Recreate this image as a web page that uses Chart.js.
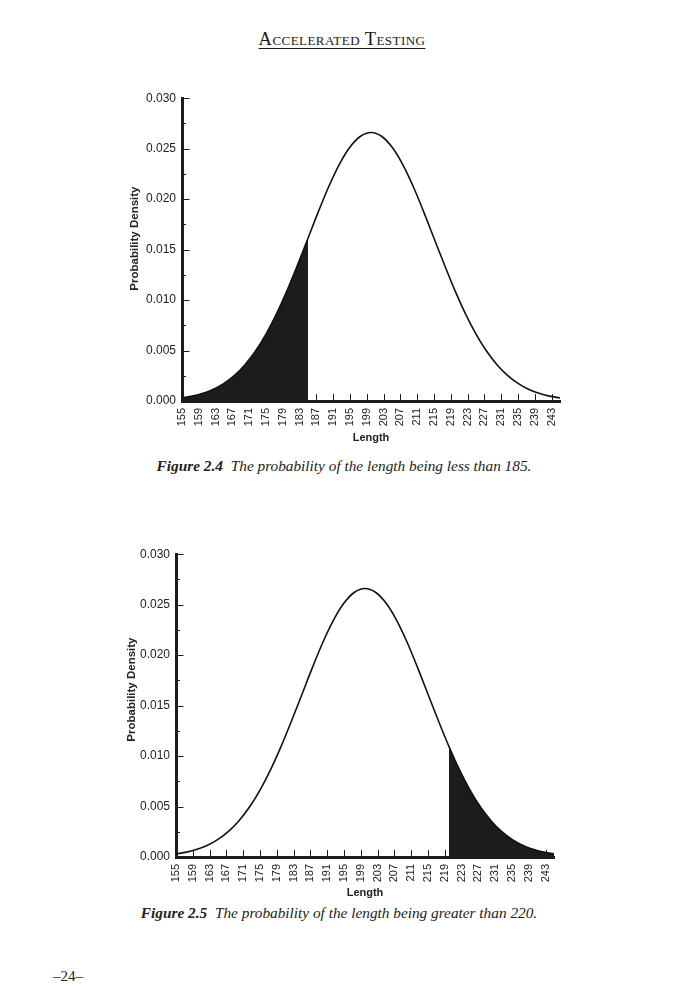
<!DOCTYPE html>
<html>
<head>
<meta charset="utf-8">
<script src="https://cdn.jsdelivr.net/npm/chart.js@4.4.1/dist/chart.umd.min.js"></script>
<style>
  html, body { margin: 0; padding: 0; background: #fff; }
  .page { position: relative; width: 684px; height: 1000px; overflow: hidden; color: #222; }
  .header {
    position: absolute; left: 0; top: 29px; width: 684px; text-align: center;
    font-family: 'Liberation Serif', 'Times New Roman', serif; font-size: 18.5px;
    font-variant: small-caps; text-decoration: underline; text-underline-offset: 3px;
    text-decoration-thickness: 1px; letter-spacing: 0.45px; color: #1a1a1a;
  }
  .chart { position: absolute; }
  .caption {
    position: absolute; white-space: nowrap; transform: translateX(-50%);
    font-family: 'Liberation Serif', 'Times New Roman', serif; font-size: 15.3px; font-style: italic;
  }
  .caption b { font-weight: bold; margin-right: 4px; }
  .folio {
    position: absolute; left: 53px; top: 968px;
    font-family: 'Liberation Serif', 'Times New Roman', serif; font-size: 15px;
  }
</style>
</head>
<body>
<div class="page">
  <div class="header">Accelerated Testing</div>

  <div class="chart" style="left:90px; top:85px; width:490px; height:360px;"><canvas id="fig24"></canvas></div>
  <div class="caption" style="left:344px; top:457px;"><b>Figure 2.4</b> The probability of the length being less than 185.</div>

  <div class="chart" style="left:84px; top:541px; width:490px; height:359px;"><canvas id="fig25"></canvas></div>
  <div class="caption" style="left:339px; top:904px;"><b>Figure 2.5</b> The probability of the length being greater than 220.</div>

  <div class="folio">–24–</div>
</div>

<script>
// ===== Data =====
const lengths = [155, 157.5, 160, 162.5, 165, 167.5, 170, 172.5, 175, 177.5,
  180, 182.5, 185, 187.5, 190, 192.5, 195, 197.5, 200, 202.5,
  205, 207.5, 210, 212.5, 215, 217.5, 220, 222.5, 225, 227.5,
  230, 232.5, 235, 237.5, 240, 242.5, 245];

const density = [0.00030, 0.00048, 0.00076, 0.00117, 0.00175, 0.00254, 0.00360, 0.00495, 0.00663, 0.00863,
  0.01093, 0.01347, 0.01613, 0.01879, 0.02130, 0.02347, 0.02516, 0.02623, 0.02660, 0.02623,
  0.02516, 0.02347, 0.02130, 0.01879, 0.01613, 0.01347, 0.01093, 0.00863, 0.00663, 0.00495,
  0.00360, 0.00254, 0.00175, 0.00117, 0.00076, 0.00048, 0.00030];

const xTicks = [155, 159, 163, 167, 171, 175, 179, 183, 187, 191, 195, 199,
  203, 207, 211, 215, 219, 223, 227, 231, 235, 239, 243];
const yTicks = [0, 0.005, 0.010, 0.015, 0.020, 0.025, 0.030];
const yMinorTicks = [0.0025, 0.0075, 0.0125, 0.0175, 0.0225, 0.0275];

const shade24 = [155, 185];   // length < 185
const shade25 = [220, 245];   // length > 220

const INK = '#1c1c1c';
const SANS = "'Liberation Sans', Arial, sans-serif";

// Tick marks drawn inside the plot, as in the book figures
const insideTicks = {
  id: 'insideTicks',
  beforeDatasetsDraw(chart) {
    const { ctx, chartArea, scales: { x, y } } = chart;
    ctx.save();
    ctx.strokeStyle = INK;
    ctx.lineWidth = 1;
    ctx.beginPath();
    yTicks.forEach(v => {
      const py = Math.round(y.getPixelForValue(v)) + 0.5;
      ctx.moveTo(chartArea.left, py);
      ctx.lineTo(chartArea.left + 7.5, py);
    });
    yMinorTicks.forEach(v => {
      const py = Math.round(y.getPixelForValue(v)) + 0.5;
      ctx.moveTo(chartArea.left, py);
      ctx.lineTo(chartArea.left + 4, py);
    });
    xTicks.forEach(v => {
      const px = Math.round(x.getPixelForValue(v)) + 0.5;
      ctx.moveTo(px, chartArea.bottom);
      ctx.lineTo(px, chartArea.bottom - 7);
    });
    ctx.stroke();
    ctx.restore();
  },
};

// y title sits a bit above the middle of the axis in the original
const yTitle = {
  id: 'yTitle',
  afterDraw(chart, args, opts) {
    const { ctx, chartArea } = chart;
    ctx.save();
    ctx.translate(chartArea.left - opts.dx, (chartArea.top + chartArea.bottom) / 2 + opts.dy);
    ctx.rotate(-Math.PI / 2);
    ctx.font = `bold 11.5px ${SANS}`;
    ctx.fillStyle = '#222';
    ctx.textAlign = 'center';
    ctx.textBaseline = 'middle';
    ctx.fillText(opts.text, 0, 0);
    ctx.restore();
  },
};

function makeFigure(id, shade, xAxisHeight, titleOffset) {
  const curve = lengths.map((l, i) => ({ x: l, y: density[i] }));
  const shaded = curve.filter(p => p.x >= shade[0] && p.x <= shade[1]);

  return new Chart(document.getElementById(id), {
    type: 'line',
    data: {
      datasets: [
        {
          label: 'Shaded',
          data: shaded,
          borderWidth: 0,
          pointRadius: 0,
          backgroundColor: INK,
          fill: 'origin',
          cubicInterpolationMode: 'monotone',
          order: 2,
        },
        {
          label: 'Density',
          data: curve,
          borderColor: '#111',
          borderWidth: 1.6,
          pointRadius: 0,
          fill: false,
          cubicInterpolationMode: 'monotone',
          order: 1,
        },
      ],
    },
    options: {
      responsive: true,
      maintainAspectRatio: false,
      animation: false,
      events: [],
      layout: { padding: { top: 10, right: 20, bottom: 0, left: 0 } },
      scales: {
        x: {
          type: 'linear',
          min: 155,
          max: 245,
          afterBuildTicks: (scale) => { scale.ticks = xTicks.map(v => ({ value: v })); },
          afterFit: (scale) => { scale.height = xAxisHeight; },
          grid: { display: false, drawTicks: false },
          border: { display: true, width: 3, color: INK },
          ticks: {
            minRotation: 90, maxRotation: 90, autoSkip: false, padding: 7,
            color: '#222', font: { family: SANS, size: 11 },
          },
          title: {
            display: true, text: 'Length', color: '#222',
            padding: { top: 0, bottom: 0 },
            font: { family: SANS, size: 11, weight: 'bold', lineHeight: 1.2 },
          },
        },
        y: {
          min: 0,
          max: 0.03,
          afterBuildTicks: (scale) => { scale.ticks = yTicks.map(v => ({ value: v })); },
          afterFit: (scale) => { scale.width = 92; },
          grid: { display: false, drawTicks: false },
          border: { display: true, width: 3, color: INK },
          ticks: {
            padding: 6, color: '#222', font: { family: SANS, size: 12 },
            callback: (v) => v.toFixed(3),
          },
        },
      },
      plugins: {
        legend: { display: false },
        tooltip: { enabled: false },
        yTitle: { text: 'Probability Density', dx: titleOffset[0], dy: titleOffset[1] },
      },
    },
    plugins: [insideTicks, yTitle],
  });
}

makeFigure('fig24', shade24, 44, [47, -11]);
makeFigure('fig25', shade25, 43, [44, -16]);
</script>
</body>
</html>
